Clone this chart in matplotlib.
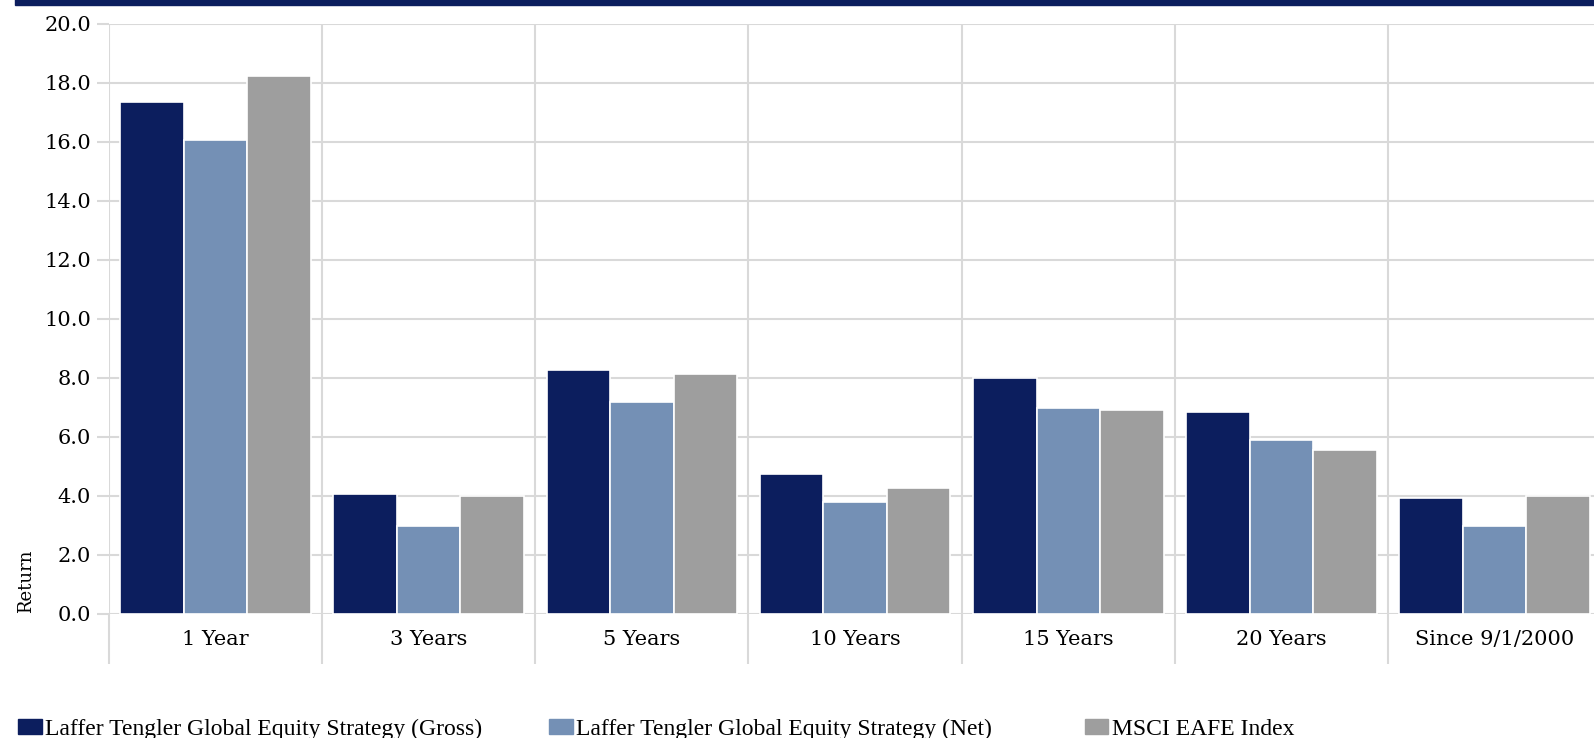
import numpy as np
import matplotlib.pyplot as plt
from matplotlib.patches import Rectangle, Patch

# data
periods = ['1 Year', '3 Years', '5 Years', '10 Years', '15 Years', '20 Years', 'Since 9/1/2000']
gross = [17.35, 4.06, 8.26, 4.75, 7.99, 6.85, 3.92]
net = [16.05, 2.98, 7.19, 3.80, 6.99, 5.90, 2.97]
msci = [18.22, 3.99, 8.12, 4.27, 6.92, 5.56, 3.99]
series_names = ['Laffer Tengler Global Equity Strategy (Gross)',
                'Laffer Tengler Global Equity Strategy (Net)',
                'MSCI EAFE Index']
colors = ['#0C1E5E', '#7490B5', '#9E9E9E']
grid_col = '#D9D9D9'

fig = plt.figure(figsize=(15.94, 7.38), dpi=100)
ax = fig.add_axes([0.0683, 0.1684, 0.9363, 0.7991])

x = np.arange(len(periods))
w = 0.298
for i, vals in enumerate([gross, net, msci]):
    ax.bar(x + (i - 1) * w, vals, width=w, color=colors[i],
           edgecolor='white', linewidth=1.2, zorder=3)

ax.set_xlim(-0.5, len(periods) - 0.5)
ax.set_ylim(0, 20)
ax.set_yticks(np.arange(0, 21, 2))
ax.set_yticklabels([f'{v:.1f}' for v in np.arange(0, 21, 2)])
ax.set_xticks(x)
ax.set_xticklabels(periods)
ax.set_xticks(np.arange(-0.5, len(periods)), minor=True)

ax.grid(axis='y', color=grid_col, linewidth=1.5, zorder=0)
ax.grid(axis='x', which='minor', color=grid_col, linewidth=1.5, zorder=0)
ax.tick_params(axis='y', length=9, width=1.5, color=grid_col, pad=4,
               labelsize=15, labelfontfamily='DejaVu Serif')
ax.tick_params(axis='x', which='major', length=0, pad=12,
               labelsize=15, labelfontfamily='DejaVu Serif')
ax.tick_params(axis='x', which='minor', length=36, width=1.5, color=grid_col)
for s in ax.spines.values():
    s.set_visible(False)

fig.text(0.0165, 0.212, 'Return', rotation=90, ha='center', va='center',
         fontsize=13, family='DejaVu Serif')

# dark band at top
fig.patches.append(Rectangle((0.0094, 0.9932), 1.0, 0.01, transform=fig.transFigure,
                             color='#0C1E5E', zorder=5))

leg_x = [-0.002, 0.3312, 0.6672]
for i in range(3):
    fig.legend(handles=[Patch(color=colors[i])], labels=[series_names[i]],
               loc='lower left', bbox_to_anchor=(leg_x[i], -0.031), frameon=False,
               handlelength=1.0, handleheight=0.6, handletextpad=0.15,
               prop={'family': 'Liberation Serif', 'size': 17})

fig.savefig('out.png', dpi=100)
